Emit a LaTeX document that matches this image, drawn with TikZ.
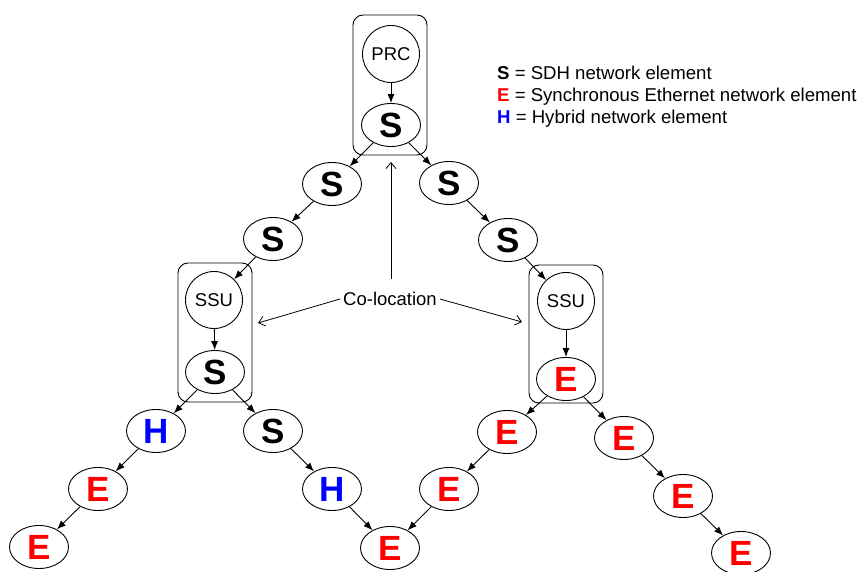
\documentclass[tikz,border=0pt]{standalone}
\usepackage{fontspec}
\setmainfont{Liberation Sans}
\usetikzlibrary{shapes.geometric,arrows.meta}
\definecolor{er}{RGB}{255,0,0}
\definecolor{hb}{RGB}{0,0,255}
\tikzset{
  ne/.style={ellipse, draw, line width=0.9pt, minimum width=59pt, minimum height=43pt, inner sep=0pt, font=\fontsize{35}{40}\selectfont\bfseries},
  circ/.style={circle, draw, line width=0.9pt, minimum size=57pt, inner sep=0pt, font=\fontsize{18.5}{22}\selectfont},
  arr/.style={-{Latex[length=9pt,width=7pt]}, line width=0.9pt},
  boxx/.style={draw, rounded corners=10pt, line width=0.9pt, minimum width=74pt},
  openarr/.style={-{Straight Barb[length=6pt,width=10pt]}, line width=0.8pt},
  lbl/.style={font=\fontsize{18.5}{22}\selectfont, inner sep=3pt},
  leg/.style={font=\fontsize{18.6}{22}\selectfont, inner sep=0pt, anchor=base west}
}
\begin{document}
\begin{tikzpicture}[x=1pt,y=-1pt]
\useasboundingbox (0,0) rectangle (860,572);
% boxes
\node[boxx, minimum height=140pt] (boxT) at (390,85) {};
\node[boxx, minimum height=139pt] (boxL) at (215,332.5) {};
\node[boxx, minimum height=138pt] (boxR) at (566,334) {};
% nodes
\node[circ] (prc) at (391,54) {PRC};
\node[ne] (sT) at (391,125) {S};
\node[ne] (sL1) at (332,184) {S};
\node[ne] (sL2) at (273,239) {S};
\node[circ] (ssuL) at (214,300) {SSU};
\node[ne] (sL) at (215,372) {S};
\node[ne] (sR1) at (449,183) {S};
\node[ne] (sR2) at (508,240) {S};
\node[circ] (ssuR) at (566,301) {SSU};
\node[ne, text=er] (eR) at (566,379) {E};
\node[ne, text=hb] (hL) at (156,431) {H};
\node[ne, text=er] (eL1) at (98,489) {E};
\node[ne, text=er] (eL2) at (39,547) {E};
\node[ne] (sM) at (273,431) {S};
\node[ne, text=hb] (hM) at (332,489) {H};
\node[ne, text=er] (eB) at (390,548) {E};
\node[ne, text=er] (eM1) at (507,432) {E};
\node[ne, text=er] (eM2) at (449,489) {E};
\node[ne, text=er] (eR1) at (624,438) {E};
\node[ne, text=er] (eR2) at (683,496) {E};
\node[ne, text=er] (eR3) at (741,553) {E};
% edges
\draw[arr] (prc) -- (sT);
\draw[arr] (sT) -- (sL1);
\draw[arr] (sT) -- (sR1);
\draw[arr] (sL1) -- (sL2);
\draw[arr] (sL2) -- (ssuL);
\draw[arr] (ssuL) -- (sL);
\draw[arr] (sL) -- (hL);
\draw[arr] (sL) -- (sM);
\draw[arr] (hL) -- (eL1);
\draw[arr] (eL1) -- (eL2);
\draw[arr] (sM) -- (hM);
\draw[arr] (hM) -- (eB);
\draw[arr] (sR1) -- (sR2);
\draw[arr] (sR2) -- (ssuR);
\draw[arr] (ssuR) -- (eR);
\draw[arr] (eR) -- (eM1);
\draw[arr] (eR) -- (eR1);
\draw[arr] (eM1) -- (eM2);
\draw[arr] (eM2) -- (eB);
\draw[arr] (eR1) -- (eR2);
\draw[arr] (eR2) -- (eR3);
% co-location
\node[lbl] (coloc) at (390,299) {Co-location};
\coordinate (cl) at (258,323);
\coordinate (cr) at (522,322);
\coordinate (ct) at (391,162);
\draw[openarr] (coloc.west) -- (cl);
\draw[openarr] (coloc.east) -- (cr);
\draw[openarr, shorten <=10pt] (coloc.north -| ct) -- (ct);
% legend
\node[leg] (leg1) at (497,80) {\textbf{S} = SDH network element};
\node[leg] (leg2) at (497,102) {\textbf{\textcolor{er}{E}} = Synchronous Ethernet network element};
\node[leg] (leg3) at (497,124) {\textbf{\textcolor{hb}{H}} = Hybrid network element};
\end{tikzpicture}
\end{document}
